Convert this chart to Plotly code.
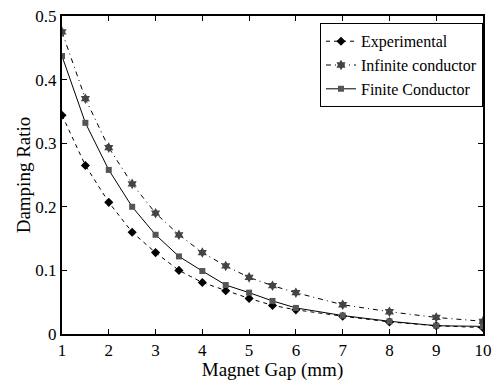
import plotly.graph_objects as go

gap_mm = [1, 1.5, 2, 2.5, 3, 3.5, 4, 4.5, 5, 5.5, 6, 7, 8, 9, 10]
experimental = [0.344, 0.265, 0.207, 0.160, 0.128, 0.100, 0.081, 0.068, 0.056, 0.045, 0.038, 0.028, 0.019, 0.013, 0.010]
infinite_cond = [0.475, 0.370, 0.293, 0.236, 0.190, 0.156, 0.128, 0.107, 0.089, 0.076, 0.065, 0.046, 0.035, 0.026, 0.020]
finite_cond = [0.437, 0.332, 0.258, 0.200, 0.156, 0.122, 0.099, 0.077, 0.065, 0.052, 0.041, 0.029, 0.020, 0.013, 0.012]

x_ticks = [1, 2, 3, 4, 5, 6, 7, 8, 9, 10]
y_ticks = [0, 0.1, 0.2, 0.3, 0.4, 0.5]
y_tick_labels = ["0", "0.1", "0.2", "0.3", "0.4", "0.5"]

font = "'Times New Roman', 'Liberation Serif', 'DejaVu Serif', serif"

fig = go.Figure()
fig.add_trace(go.Scatter(
    x=gap_mm, y=experimental, name="Experimental", mode="lines+markers",
    line=dict(color="black", width=1, dash="4px,4px"),
    marker=dict(symbol="diamond", size=7, color="black"),
))
fig.add_trace(go.Scatter(
    x=gap_mm, y=infinite_cond, name="Infinite conductor", mode="lines+markers",
    line=dict(color="black", width=1, dash="5px,4px,1px,4px"),
    marker=dict(symbol="hexagram", size=8, color="#444444"),
))
fig.add_trace(go.Scatter(
    x=gap_mm, y=finite_cond, name="Finite Conductor", mode="lines+markers",
    line=dict(color="black", width=1),
    marker=dict(symbol="square", size=6, color="#555555"),
))

axis_common = dict(
    showline=True, linecolor="black", linewidth=2, mirror="ticks",
    ticks="inside", ticklen=5, tickcolor="black", tickwidth=1,
    showgrid=False, zeroline=False,
    tickfont=dict(family=font, size=17, color="black"),
)

fig.update_layout(
    width=499, height=381,
    margin=dict(l=62, r=7, t=10, b=45),
    paper_bgcolor="white", plot_bgcolor="white",
    font=dict(family=font, color="black"),
    xaxis=dict(range=[1, 10], tickvals=x_ticks,
               title=dict(text="Magnet Gap (mm)", font=dict(family=font, size=19), standoff=0),
               **axis_common),
    yaxis=dict(range=[0, 0.5], tickvals=y_ticks, ticktext=y_tick_labels,
               title=dict(text="Damping Ratio", font=dict(family=font, size=19), standoff=0),
               **axis_common),
    legend=dict(x=1, y=0.977, xanchor="right", yanchor="top",
                bordercolor="black", borderwidth=1, bgcolor="white",
                font=dict(family=font, size=16, color="black"),
                tracegroupgap=0, itemwidth=30),
    showlegend=True,
)

fig.write_html("out.html", config={"displayModeBar": False},
               post_script="document.body.style.margin='0';")
